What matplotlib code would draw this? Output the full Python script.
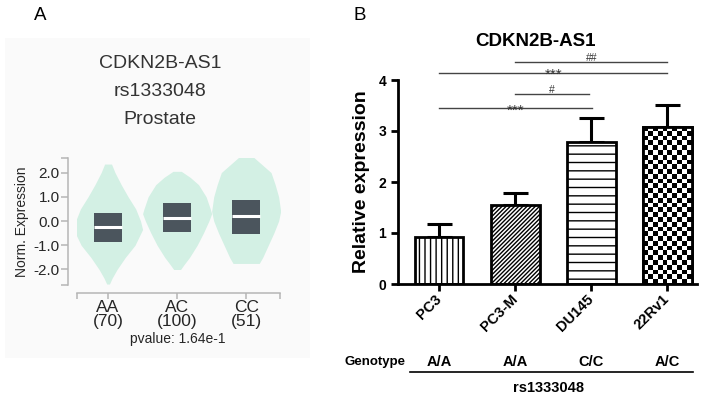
import numpy as np
import matplotlib
matplotlib.use("Agg")
import matplotlib.pyplot as plt
from matplotlib.patches import Rectangle
from matplotlib import transforms

plt.rcParams['font.family'] = ['Liberation Sans', 'DejaVu Sans']
plt.rcParams['hatch.linewidth'] = 1.0

W, H = 709, 398

# ---------------- panel A data (violin outline) ----------------
genotypes = ["AA", "AC", "CC"]
counts = [70, 100, 51]
pvalue_txt = "pvalue: 1.64e-1"

aa_y = [2.35, 2.0, 1.5, 1.0, 0.5, 0.0, -0.35, -1.0, -1.5, -2.0, -2.35, -2.6]
aa_w = [0.05, 0.10, 0.19, 0.29, 0.40, 0.47, 0.50, 0.39, 0.25, 0.13, 0.06, 0.02]
ac_y = [2.05, 1.8, 1.5, 1.0, 0.5, 0.3, 0.0, -0.5, -1.0, -1.5, -1.8, -2.0]
ac_w = [0.06, 0.19, 0.31, 0.42, 0.48, 0.50, 0.46, 0.38, 0.29, 0.18, 0.10, 0.05]
cc_y = [2.65, 2.0, 1.5, 1.0, 0.4, 0.0, -0.5, -1.0, -1.5, -1.75]
cc_w = [0.10, 0.36, 0.42, 0.47, 0.50, 0.47, 0.40, 0.32, 0.24, 0.19]

q1 = [-0.85, -0.45, -0.55]
q3 = [0.35, 0.75, 0.85]
medians = [-0.25, 0.12, 0.2]

# ---------------- panel B data ----------------
cells = ["PC3", "PC3-M", "DU145", "22Rv1"]
expr = [0.92, 1.55, 2.79, 3.08]
sem = [0.25, 0.23, 0.46, 0.43]
geno_b = ["A/A", "A/A", "C/C", "A/C"]
hatches = ["|||", "////////", "--", None]
# (from, to, height, label)
sig = [(1, 3, 4.35, "##"), (0, 3, 4.14, "***"), (1, 1.97, 3.73, "#"), (0, 2.01, 3.45, "***")]

fig = plt.figure(figsize=(W / 100, H / 100), dpi=100)


def fx(x):
    return x / W


def fy(y):
    return 1 - y / H


# panel labels
fig.text(fx(40), fy(16), "A", fontsize=13.5, ha='center', va='center')
fig.text(fx(360), fy(16), "B", fontsize=13.5, ha='center', va='center')

# ---------------- panel A ----------------
fig.patches.append(Rectangle((fx(5), fy(358)), fx(305), 320 / H, transform=fig.transFigure,
                             facecolor='#fafafa', edgecolor='none', zorder=-5))
txtc = '#262626'
fig.text(fx(160), fy(63), "CDKN2B-AS1", fontsize=14, ha='center', va='center', color='#333333')
fig.text(fx(160), fy(92), "rs1333048", fontsize=14, ha='center', va='center', color='#333333')
fig.text(fx(160), fy(120), "Prostate", fontsize=14, ha='center', va='center', color='#333333')

axA = fig.add_axes([fx(77), fy(285), 203 / W, 127 / H])
axA.patch.set_alpha(0)
vio_y = [aa_y, ac_y, cc_y]
vio_w = [aa_w, ac_w, cc_w]
for i in range(3):
    yy = np.array(vio_y[i])
    ww = np.array(vio_w[i])
    axA.fill_betweenx(yy, i - ww, i + ww, color='#d3f0e4', lw=0)
    axA.add_patch(Rectangle((i - 0.2, q1[i]), 0.4, q3[i] - q1[i], facecolor='#4b555d', edgecolor='none'))
    axA.plot([i - 0.2, i + 0.2], [medians[i], medians[i]], color='white', lw=2.2, solid_capstyle='butt')

axA.set_xlim(-0.45, 2.49)
axA.set_ylim(-2.64, 2.6)
for s in ['top', 'right']:
    axA.spines[s].set_visible(False)
axA.spines['left'].set_position(('outward', 6.5))
axA.spines['bottom'].set_position(('outward', 5.8))
for s in ['left', 'bottom']:
    axA.spines[s].set_color('#b5b5b5')
    axA.spines[s].set_linewidth(1.1)
axA.set_yticks([2, 1, 0, -1, -2])
axA.set_yticklabels(["2.0", "1.0", "0.0", "-1.0", "-2.0"])
axA.set_yticks([-2.64, 2.6], minor=True)
axA.set_xticks([0, 1, 2])
axA.set_xticklabels([f"{g}\n({n})" for g, n in zip(genotypes, counts)], linespacing=0.92)
axA.set_xticks([-0.45, 2.49], minor=True)
axA.tick_params(axis='y', which='both', length=5, width=1.1, color='#b5b5b5', labelsize=11,
                labelcolor=txtc, pad=1)
axA.tick_params(axis='x', which='both', length=4, width=1.1, color='#b5b5b5', labelsize=12.5,
                labelcolor=txtc, pad=1)
axA.set_ylabel("Norm. Expression", fontsize=10, color=txtc, labelpad=3)
fig.text(fx(178), fy(339), pvalue_txt, fontsize=10, ha='center', va='center', color=txtc)

# ---------------- panel B ----------------
fig.text(fx(535), fy(41), "CDKN2B-AS1", fontsize=13.5, fontweight='bold', ha='center', va='center')

axB = fig.add_axes([fx(398), fy(284), 299 / W, 204 / H])
axB.patch.set_alpha(0)
x = np.arange(len(cells))
bw = 0.64
axB.errorbar(x, expr, yerr=[np.zeros(len(sem)), sem], fmt='none', ecolor='black',
             elinewidth=2.2, capsize=9, capthick=2.2, zorder=1)
bars = axB.bar(x, expr, width=bw, facecolor='white', edgecolor='black', linewidth=2.0, zorder=2)
for b, h in zip(bars, hatches):
    if h:
        b.set_hatch(h)

# checkerboard fill for the last bar
cb = bars[3]
checker = np.indices((33, 10)).sum(axis=0) % 2
im = axB.imshow(checker, cmap='gray', interpolation='nearest', aspect='auto',
                extent=[cb.get_x(), cb.get_x() + cb.get_width(), 0, cb.get_height()], zorder=2.5)
im.set_clip_path(cb)
axB.bar([x[3]], [expr[3]], width=bw, facecolor='none', edgecolor='black', linewidth=2.0, zorder=3)

axB.set_xlim(-0.54, 3.39)
axB.set_ylim(0, 4)
for s in ['top', 'right']:
    axB.spines[s].set_visible(False)
for s in ['left', 'bottom']:
    axB.spines[s].set_linewidth(2.0)
axB.set_yticks([0, 1, 2, 3, 4])
axB.set_xticks(x)
axB.set_xticklabels(cells, rotation=45, ha='right', va='center', rotation_mode='anchor',
                    fontweight='bold')
axB.tick_params(axis='both', length=5, width=2.0, labelsize=10)
axB.tick_params(axis='x', labelsize=10.5, pad=4.5)
for t in axB.get_yticklabels():
    t.set_fontweight('bold')
axB.set_ylabel("Relative expression", fontsize=14, fontweight='bold', labelpad=6)

for x0, x1, yv, lab in sig:
    axB.plot([x0, x1], [yv, yv], color='#444444', lw=1.0, clip_on=False)
    if lab.startswith('*'):
        axB.annotate(lab, ((x0 + x1) / 2, yv), xytext=(0, -4.5), textcoords='offset points',
                     ha='center', va='baseline', fontsize=11, color='#333333', annotation_clip=False)
    else:
        axB.annotate(lab, ((x0 + x1) / 2, yv), xytext=(0, 0.7), textcoords='offset points',
                     ha='center', va='baseline', fontsize=7.5, color='#333333', annotation_clip=False)

# genotype row under panel B
blend = transforms.blended_transform_factory(axB.transData, fig.transFigure)
fig.text(fx(375), fy(362), "Genotype", fontsize=9.5, fontweight='bold', ha='center', va='center')
for xi, g in zip(x, geno_b):
    fig.text(xi, fy(362), g, fontsize=10.5, fontweight='bold', ha='center', va='center', transform=blend)
fig.add_artist(plt.Line2D([fx(410), fx(693)], [fy(372), fy(372)], color='black', lw=1.2,
                          transform=fig.transFigure))
fig.text(fx(549), fy(388), "rs1333048", fontsize=10.5, fontweight='bold', ha='center', va='center')

fig.savefig("out.png", dpi=100)
